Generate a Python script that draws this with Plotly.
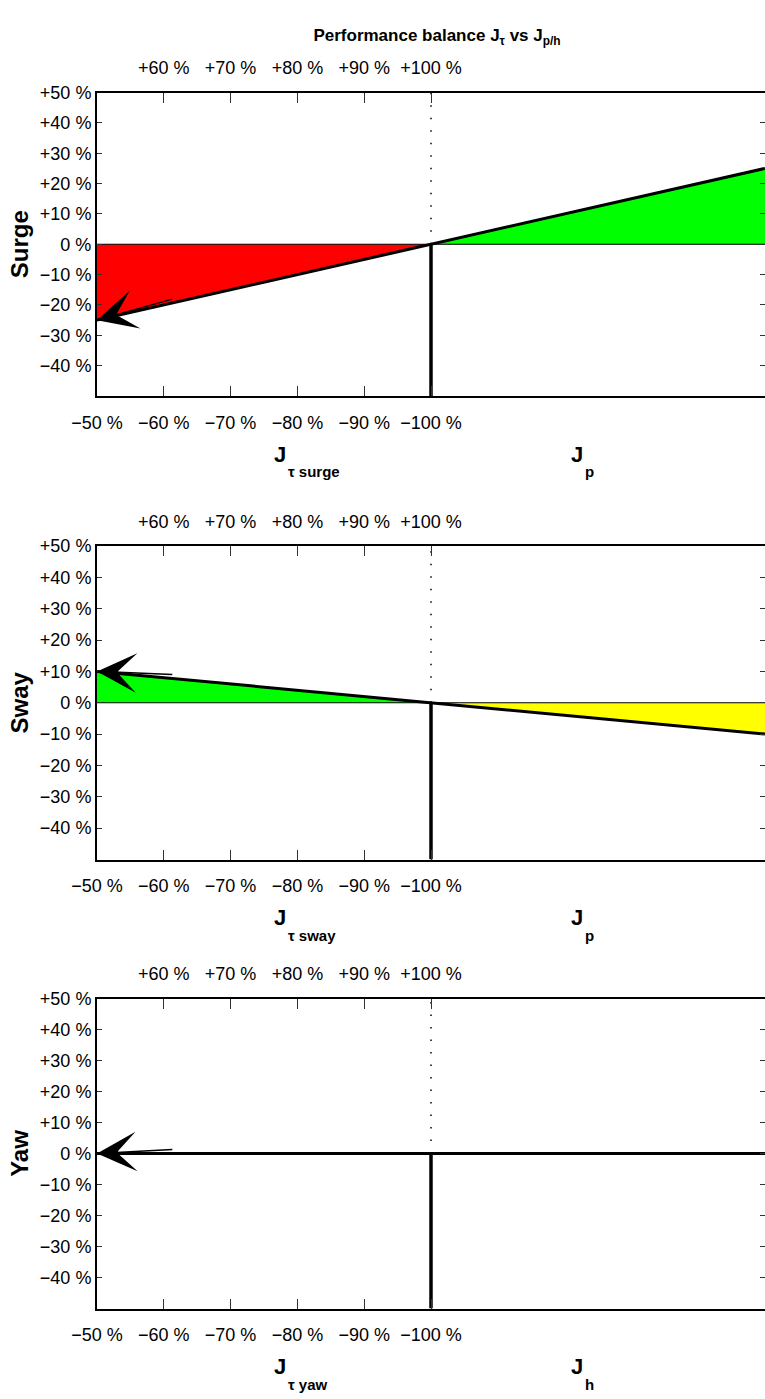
import plotly.graph_objects as go

# ---- data ----
panel_names = ["Surge", "Sway", "Yaw"]
left_values = [-25, 10, 0]      # value of J_tau at the left edge (%)
right_values = [25, -10, 0]     # value of J_p/h at the right edge (%)
left_fill_colors = ["#ff0000", "#00ff00", "#00ff00"]
right_fill_colors = ["#00ff00", "#ffff00", "#ffff00"]
tau_subscripts = ["τ surge", "τ sway", "τ yaw"]
right_subscripts = ["p", "p", "h"]

bottom_tick_pos = [0, 10, 20, 30, 40, 50]
bottom_tick_text = ["−50 %", "−60 %", "−70 %", "−80 %", "−90 %", "−100 %"]
top_tick_pos = [10, 20, 30, 40, 50]
top_tick_text = ["+60 %", "+70 %", "+80 %", "+90 %", "+100 %"]
y_tick_pos = [-40, -30, -20, -10, 0, 10, 20, 30, 40, 50]
y_tick_text = ["−40 %", "−30 %", "−20 %", "−10 %", "0 %", "+10 %", "+20 %", "+30 %", "+40 %", "+50 %"]
right_tick_pos = [-40, -30, -20, -10, 0, 10, 20, 30, 40]

# ---- layout geometry (pixels) ----
W, H = 765, 1399
panel_px = [(92.5, 396.0), (546.0, 859.5), (998.5, 1308.5)]

FONT = "Liberation Sans, Arial, sans-serif"
TICKFONT = dict(family=FONT, size=18, color="black")


def py2paper(p):
    return 1 - p / H


fig = go.Figure()
layout = dict(
    width=W, height=H,
    margin=dict(l=97, r=0, t=0, b=0, autoexpand=False),
    paper_bgcolor="white", plot_bgcolor="white",
    showlegend=False,
    font=dict(family=FONT, color="black"),
    title=dict(
        text="<b>Performance balance J<sub>τ</sub> vs J<sub>p/h</sub></b>",
        x=437 / W, xanchor="center", xref="container",
        y=1 - 35 / H, yanchor="middle", yref="container",
        font=dict(family=FONT, size=17, color="black"),
    ),
    annotations=[],
)

for k in range(3):
    xa = 2 * k + 1
    xb = 2 * k + 2
    xa_name = "x" if xa == 1 else f"x{xa}"
    xb_name = f"x{xb}"
    ya_name = "y" if xa == 1 else f"y{xa}"
    yb_name = f"y{xb}"
    top_px, bot_px = panel_px[k]
    dom = [py2paper(bot_px), py2paper(top_px)]

    layout["xaxis" if xa == 1 else f"xaxis{xa}"] = dict(
        domain=[0, 1], anchor=ya_name, range=[0, 100], side="bottom",
        tickmode="array", tickvals=bottom_tick_pos, ticktext=bottom_tick_text,
        ticks="inside", ticklen=10, tickwidth=1, tickcolor="#333", tickangle=0,
        showline=True, linewidth=2, linecolor="black", mirror=False,
        showgrid=False, zeroline=False, tickfont=TICKFONT, ticklabelstandoff=9,
        automargin=False,
    )
    layout[f"xaxis{xb}"] = dict(
        overlaying=xa_name, anchor=ya_name, range=[0, 100], side="top",
        tickmode="array", tickvals=top_tick_pos, ticktext=top_tick_text,
        ticks="inside", ticklen=10, tickwidth=1, tickcolor="#333", tickangle=0,
        showline=True, linewidth=2, linecolor="black", mirror=False,
        showgrid=False, zeroline=False, tickfont=TICKFONT, ticklabelstandoff=9,
        automargin=False,
    )
    layout["yaxis" if xa == 1 else f"yaxis{xa}"] = dict(
        domain=dom, anchor=xa_name, range=[-50, 50], side="left",
        tickmode="array", tickvals=y_tick_pos, ticktext=y_tick_text,
        ticks="inside", ticklen=5, tickwidth=1, tickcolor="#333",
        showline=True, linewidth=2, linecolor="black", mirror=False,
        showgrid=False, zeroline=False, tickfont=TICKFONT, ticklabelstandoff=0,
        automargin=False,
        title=dict(text=f"<b>{panel_names[k]}</b>",
                   font=dict(family=FONT, size=24, color="black"),
                   standoff=4),
    )
    layout[f"yaxis{xb}"] = dict(
        overlaying=ya_name, anchor=xa_name, range=[-50, 50], side="right",
        tickmode="array", tickvals=right_tick_pos,
        ticks="inside", ticklen=5, tickwidth=1, tickcolor="#333",
        showticklabels=False, showline=False,
        showgrid=False, zeroline=False, automargin=False,
    )

    yl = left_values[k]
    yr = right_values[k]
    # fills
    fig.add_trace(go.Scatter(x=[0, 0, 50, 0], y=[0, yl, 0, 0], mode="lines",
                             fill="toself", fillcolor=left_fill_colors[k],
                             line=dict(width=0), hoverinfo="skip",
                             xaxis=xa_name, yaxis=ya_name))
    fig.add_trace(go.Scatter(x=[50, 100, 100, 50], y=[0, yr, 0, 0], mode="lines",
                             fill="toself", fillcolor=right_fill_colors[k],
                             line=dict(width=0), hoverinfo="skip",
                             xaxis=xa_name, yaxis=ya_name))
    # zero line
    fig.add_trace(go.Scatter(x=[0, 100], y=[0, 0], mode="lines",
                             line=dict(color="black", width=1),
                             xaxis=xa_name, yaxis=ya_name))
    # dotted reference above, thick below
    fig.add_trace(go.Scatter(x=[50, 50], y=[0, 50], mode="lines",
                             line=dict(color="black", width=1.5, dash="1.5px,11px"),
                             xaxis=xa_name, yaxis=ya_name))
    fig.add_trace(go.Scatter(x=[50, 50], y=[-50, 0], mode="lines",
                             line=dict(color="black", width=3.5),
                             xaxis=xa_name, yaxis=ya_name))
    # balance line
    fig.add_trace(go.Scatter(x=[0, 50, 100], y=[yl, 0, yr], mode="lines",
                             line=dict(color="black", width=3),
                             xaxis=xa_name, yaxis=ya_name))
    # invisible trace on overlay axes so they render
    fig.add_trace(go.Scatter(x=[0], y=[0], mode="markers", marker=dict(opacity=0),
                             hoverinfo="skip", xaxis=xb_name, yaxis=yb_name))

    # arrow
    tail_x = 11.5
    tail_y = yl + (0 - yl) * tail_x / 50 + 1.3
    layout["annotations"].append(dict(
        x=0, y=yl, xref=xa_name, yref=ya_name,
        ax=tail_x, ay=tail_y, axref=xa_name, ayref=ya_name,
        text="", showarrow=True, arrowhead=3, arrowsize=4.4,
        arrowwidth=1.5, arrowcolor="black", standoff=0,
    ))
    # J labels: main letter and its subscript
    j_y = py2paper(bot_px + 58)
    s_y = py2paper(bot_px + 76)
    for jx, sub in [(27.4, tau_subscripts[k]), (71.8, right_subscripts[k])]:
        layout["annotations"].append(dict(
            x=jx, xref=xa_name, y=j_y, yref="paper",
            text="<b>J</b>", showarrow=False, xanchor="center", yanchor="middle",
            font=dict(family=FONT, size=22, color="black"),
        ))
        layout["annotations"].append(dict(
            x=jx + 0.9, xref=xa_name, y=s_y, yref="paper",
            text=f"<b>{sub}</b>", showarrow=False, xanchor="left", yanchor="middle",
            font=dict(family=FONT, size=15, color="black"),
        ))

fig.update_layout(**layout)
fig.write_html("out.html")
